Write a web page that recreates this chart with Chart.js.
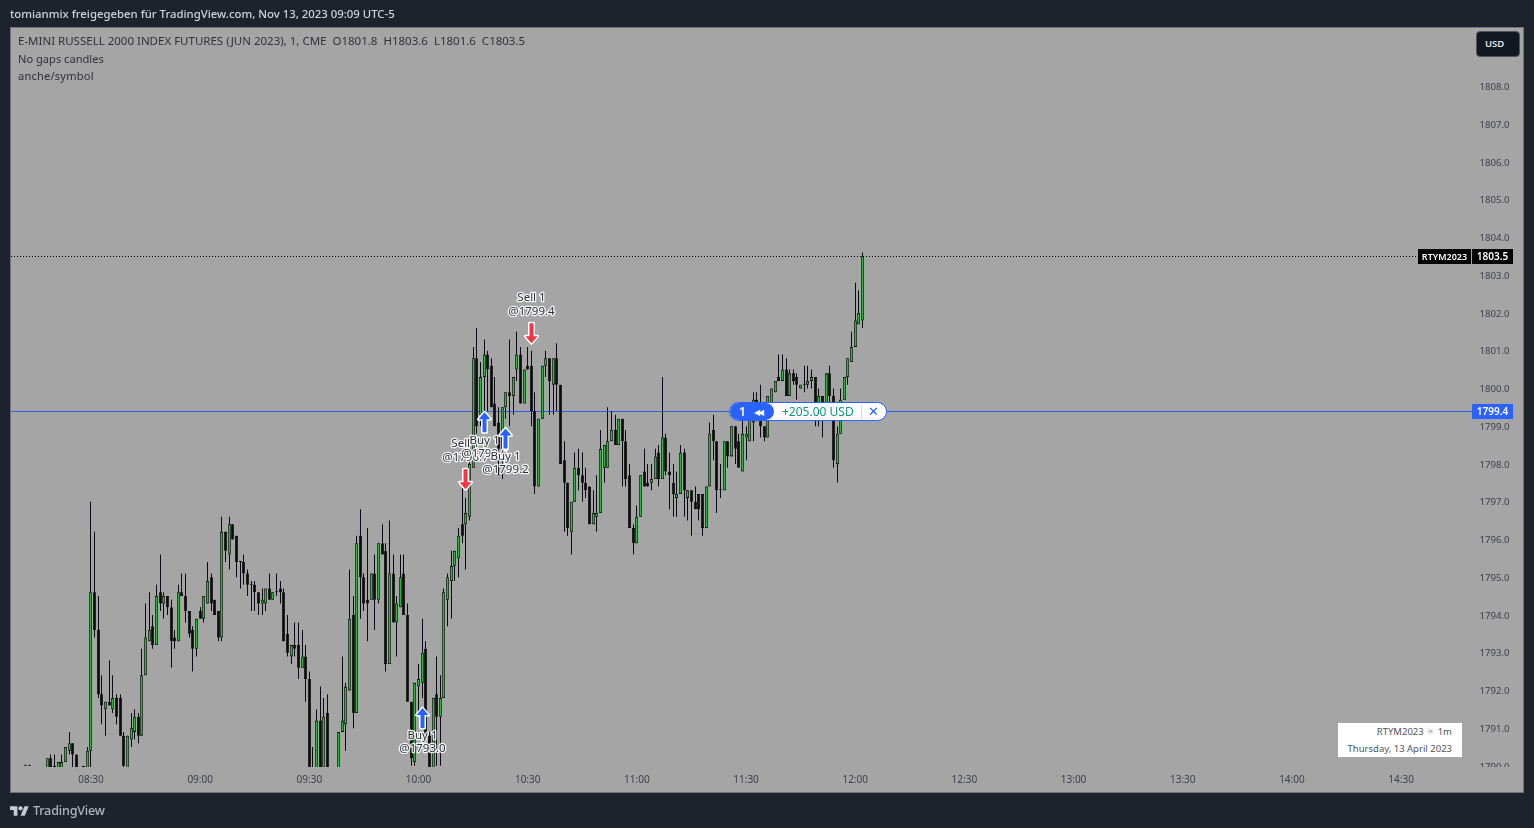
<html>
<head>
<title>RTYM2023 1m</title>
<meta charset="utf-8" />
<script src="https://cdn.jsdelivr.net/npm/chart.js@4"></script>
<style>
	html, body { margin: 0; padding: 0; background: #1e222d; width: 1534px; height: 828px; overflow: hidden; font-family: "Noto Sans", sans-serif; }
	#pane { position: absolute; left: 10px; top: 27px; width: 1512px; height: 764px; background: #a5a5a5; border: 1px solid #71747e; }
	#gmChart { position: absolute; left: 0; top: 0; }
	.txt { position: absolute; white-space: nowrap; }
	#title { left: 10px; top: 6px; font-size: 11.36px; font-weight: 500; color: #d1d4dc; line-height: 16px; }
	.legend { left: 18px; font-size: 11.5px; color: #2f3136; line-height: 16px; }
	#usd { left: 1476px; top: 31px; width: 44px; height: 26px; box-sizing: border-box; background: #131722; border: 1px solid #50535e; border-radius: 4px; color: #e6e7ea; font-size: 9.5px; font-weight: 600; line-height: 24px; padding-left: 8px; }
	#stamp { left: 1338px; top: 723px; width: 124px; height: 34px; background: #fff; color: #50535a; font-size: 9.5px; text-align: right; }
	#stamp div { position: absolute; right: 10px; line-height: 12px; opacity: 0.99; }
	#pill { left: 729px; top: 402px; width: 158px; height: 19px; box-sizing: border-box; background: #fff; border: 1px solid #2962ff; border-radius: 10px; overflow: hidden; font-size: 12px; line-height: 17px; }
	#pill span { position: absolute; top: 0; }
	#pillLeft { left: 0; width: 44px; height: 17px; background: #2962ff; border-radius: 0 9px 9px 0; }
	#footer { left: 33px; top: 802px; font-size: 12.6px; font-weight: 500; color: #b2b5be; line-height: 18px; letter-spacing: -0.2px; }
</style>
</head>
<body>
	<div id="pane"></div>
	<canvas id="gmChart" width="1534" height="828"></canvas>

	<div class="txt" id="title">tomianmix freigegeben für TradingView.com, Nov 13, 2023 09:09 UTC-5</div>
	<div class="txt legend" style="top:33px">E-MINI RUSSELL 2000 INDEX FUTURES (JUN 2023), 1, CME&nbsp; O1801.8&nbsp; H1803.6&nbsp; L1801.6&nbsp; C1803.5</div>
	<div class="txt legend" style="top:51px;font-size:11.1px">No gaps candles</div>
	<div class="txt legend" style="top:68px;font-size:11.1px;letter-spacing:0.2px">anche/symbol</div>
	<div class="txt" id="usd">USD</div>
	<div class="txt" id="stamp">
		<div style="top:3px">RTYM2023 <span style="color:#b8bac2">☀</span> 1m</div>
		<div style="top:20px">Thursday, 13 April 2023</div>
	</div>
	<div class="txt" id="pill">
		<div id="pillLeft" style="position:absolute"></div>
		<span style="left:9px;color:#fff;font-weight:600">1</span>
		<span style="left:24px;color:#fff;font-size:8px;letter-spacing:-2px">◀◀</span>
		<span style="left:52px;color:#089981">+205.00 USD</span>
		<span style="left:131px;top:1px;height:15px;border-left:1px solid #d6dcf0"></span>
		<span style="left:138px;color:#2962ff;font-size:13px">✕</span>
	</div>
	<svg style="position:absolute;left:10px;top:805px" width="19" height="12" viewBox="0 4 36 18">
		<path fill="#c9cbd2" d="M14 22H7V11H0V4h14v18zM28 22h-8l7.5-18h8L28 22z"/><circle fill="#c9cbd2" cx="20" cy="8" r="4"/>
	</svg>
	<div class="txt" id="footer">TradingView</div>

	<script>
		// 1 minute candles, first one is 08:12
		const firstMinute = 492;
		const opens = [
			1790.0,1790.0,1789.8,1789.8,1789.8,1789.8,1789.8,1790.2,1789.8,1789.8,
			1789.8,1790.1,1790.4,1790.6,1790.3,1789.8,1789.8,1789.9,1790.4,1794.6,
			1793.6,1791.9,1791.5,1791.7,1791.5,1791.8,1791.8,1790.8,1789.9,1790.7,
			1790.9,1791.3,1790.8,1792.4,1793.3,1793.7,1793.2,1794.6,1794.3,1794.5,
			1794.2,1793.4,1793.3,1794.6,1794.5,1794.1,1793.6,1793.1,1794.1,1793.9,
			1794.3,1795.0,1794.4,1794.1,1793.4,1796.2,1795.6,1796.4,1796.1,1795.4,
			1795.4,1795.1,1794.8,1794.8,1794.6,1794.3,1794.3,1794.7,1794.4,1794.6,
			1794.7,1794.6,1793.5,1792.9,1793.2,1793.2,1792.6,1792.9,1792.3,1789.9,
			1789.9,1791.2,1789.9,1791.4,1789.8,1789.7,1789.9,1790.9,1791.1,1792.0,
			1794.0,1791.4,1796.1,1795.0,1794.4,1794.4,1795.1,1794.4,1795.9,1795.7,
			1792.7,1795.1,1793.8,1794.2,1795.1,1794.0,1791.7,1790.1,1792.1,1792.2,
			1793.1,1790.8,1789.9,1791.9,1791.3,1791.8,1794.4,1794.9,1795.3,1795.5,
			1796.4,1796.4,1796.6,1797.9,1800.8,1799.3,1800.3,1800.9,1800.6,1799.6,
			1799.1,1798.4,1799.5,1799.9,1799.8,1800.5,1800.9,1799.6,1800.6,1800.6,
			1799.4,1797.4,1799.2,1800.6,1800.8,1800.1,1800.8,1800.1,1798.1,1797.5,
			1796.2,1797.0,1797.9,1797.7,1797.5,1797.4,1796.4,1796.6,1796.7,1797.9,
			1797.9,1798.6,1798.9,1798.5,1799.2,1798.6,1797.7,1796.3,1795.9,1796.6,
			1797.8,1797.5,1797.5,1797.6,1798.3,1797.6,1798.7,1797.8,1797.5,1797.1,
			1797.2,1798.3,1797.1,1797.3,1797.0,1797.2,1797.2,1796.3,1797.4,1798.9,
			1798.6,1797.3,1797.3,1798.6,1798.2,1799.0,1798.6,1797.8,1798.7,1798.6,
			1799.1,1799.7,1799.4,1799.0,1798.7,1799.4,1799.9,1800.3,1800.2,1800.5,
			1799.8,1800.4,1800.3,1800.0,1800.1,1800.1,1800.2,1800.3,1799.5,1799.8,
			1799.5,1800.4,1799.8,1798.0,1798.8,1799.7,1800.3,1800.7,1801.1,1801.7,
			1801.8
		];
		const highs = [
			1790.0,1790.0,1789.8,1789.8,1789.8,1789.8,1790.2,1790.3,1790.3,1790.1,
			1790.3,1790.5,1790.9,1790.6,1790.3,1789.8,1790.0,1790.5,1797.0,1796.2,
			1794.5,1792.4,1791.7,1792.8,1792.4,1791.9,1791.9,1790.9,1790.8,1791.4,
			1791.5,1791.4,1793.1,1794.3,1794.6,1794.0,1794.8,1795.6,1794.6,1794.5,
			1794.4,1793.6,1794.8,1795.1,1795.1,1794.1,1793.7,1793.9,1794.2,1794.5,
			1795.4,1795.1,1794.4,1794.1,1796.6,1796.2,1796.6,1796.4,1796.1,1795.4,
			1795.6,1795.2,1794.9,1794.9,1794.6,1794.7,1794.7,1795.1,1794.6,1795.1,
			1794.9,1794.7,1794.0,1793.2,1793.8,1793.8,1793.6,1793.2,1792.5,1790.5,
			1791.5,1792.1,1791.8,1791.9,1789.8,1789.8,1790.9,1792.9,1792.2,1795.2,
			1794.5,1796.1,1796.8,1795.1,1796.3,1795.1,1795.6,1795.9,1796.4,1795.9,
			1796.5,1795.6,1794.5,1795.6,1795.6,1794.3,1791.7,1792.2,1792.7,1793.9,
			1793.3,1790.9,1791.8,1792.9,1792.4,1794.7,1795.1,1795.7,1795.7,1796.3,
			1797.4,1797.1,1798.1,1801.1,1801.6,1800.7,1801.3,1801.0,1800.8,1800.3,
			1799.5,1799.5,1799.9,1801.3,1800.3,1801.5,1801.1,1800.5,1801.1,1801.0,
			1799.9,1799.2,1800.6,1801.0,1800.8,1800.8,1801.2,1800.1,1798.6,1797.5,
			1797.0,1798.3,1798.4,1798.3,1797.9,1797.4,1797.3,1797.7,1798.9,1798.5,
			1799.5,1799.4,1799.3,1799.2,1799.2,1798.9,1798.0,1796.4,1796.9,1797.7,
			1798.4,1798.0,1798.0,1798.4,1798.5,1800.3,1798.8,1798.3,1798.0,1797.8,
			1798.5,1798.4,1797.3,1797.3,1797.4,1797.2,1797.2,1797.4,1799.1,1799.3,
			1798.6,1798.0,1798.6,1798.6,1799.0,1799.0,1798.8,1799.4,1799.0,1799.6,
			1799.9,1799.9,1800.1,1799.0,1799.8,1800.0,1800.2,1800.9,1800.9,1800.8,
			1800.5,1800.5,1800.4,1800.1,1800.6,1800.6,1800.5,1800.3,1800.0,1799.8,
			1800.4,1800.6,1800.0,1799.0,1800.0,1800.3,1800.8,1801.5,1802.8,1802.6,
			1803.6
		];
		const lows = [
			1790.0,1790.0,1789.7,1789.7,1789.7,1789.7,1789.7,1789.8,1789.6,1789.7,
			1789.7,1790.1,1790.3,1789.7,1789.8,1789.7,1789.7,1789.8,1789.9,1793.4,
			1791.8,1791.1,1790.8,1791.6,1791.4,1791.1,1790.8,1789.8,1789.9,1790.5,
			1790.7,1790.6,1790.8,1792.4,1793.3,1793.1,1793.2,1794.1,1793.9,1794.0,
			1792.6,1793.1,1793.3,1794.5,1793.8,1793.4,1792.5,1792.9,1793.9,1793.8,
			1794.3,1794.1,1794.0,1793.3,1793.3,1795.4,1795.2,1796.0,1795.0,1794.7,
			1794.8,1794.5,1794.1,1794.1,1794.0,1794.0,1794.1,1794.4,1794.4,1794.5,
			1794.3,1793.3,1792.9,1792.7,1792.9,1792.3,1792.6,1791.7,1789.7,1789.6,
			1789.8,1789.8,1789.8,1789.8,1789.6,1789.6,1789.8,1790.9,1790.4,1792.0,
			1791.0,1791.4,1793.9,1794.1,1793.3,1794.4,1793.6,1794.3,1795.6,1792.5,
			1792.7,1793.8,1792.9,1794.2,1794.0,1791.7,1790.0,1790.0,1791.4,1791.8,
			1790.8,1789.8,1789.8,1790.0,1790.0,1791.8,1793.7,1793.9,1794.9,1795.0,
			1795.9,1795.2,1796.5,1797.9,1798.8,1799.0,1799.3,1799.4,1799.5,1799.0,
			1797.7,1797.6,1799.2,1799.0,1799.3,1800.2,1799.6,1799.6,1800.5,1799.0,
			1797.2,1797.4,1799.2,1800.3,1799.3,1799.3,1799.4,1798.0,1796.2,1796.1,
			1795.6,1797.0,1797.3,1797.0,1797.1,1796.4,1796.4,1796.2,1796.7,1797.5,
			1797.9,1798.6,1798.5,1798.5,1797.4,1797.4,1796.3,1795.6,1795.9,1796.6,
			1797.4,1797.4,1797.3,1797.6,1797.4,1797.6,1797.7,1796.8,1796.6,1796.6,
			1797.2,1796.6,1796.5,1796.1,1796.8,1796.5,1796.1,1796.3,1797.4,1798.1,
			1796.7,1797.1,1797.3,1797.9,1798.2,1798.0,1797.9,1797.8,1798.1,1798.6,
			1798.6,1799.2,1798.7,1798.6,1798.7,1799.4,1799.9,1800.2,1800.2,1799.8,
			1799.8,1800.1,1799.7,1800.0,1799.9,1800.0,1800.0,1799.0,1799.0,1798.7,
			1799.5,1799.5,1797.9,1797.5,1798.8,1799.7,1800.1,1800.7,1801.1,1801.7,
			1801.6
		];
		const closes = [
			1790.0,1790.0,1789.7,1789.7,1789.7,1789.7,1790.2,1789.8,1789.8,1790.1,
			1790.1,1790.5,1790.6,1790.3,1789.9,1789.7,1789.8,1790.4,1794.6,1793.6,
			1791.9,1791.6,1791.7,1791.6,1791.8,1791.3,1790.8,1790.0,1790.8,1791.0,
			1791.3,1790.8,1792.4,1793.4,1793.6,1793.2,1794.5,1794.3,1794.5,1794.2,
			1793.3,1793.3,1794.6,1794.5,1794.1,1793.5,1793.1,1793.9,1793.9,1794.5,
			1794.9,1794.3,1794.0,1793.4,1796.2,1795.7,1796.4,1796.0,1795.4,1795.4,
			1795.1,1794.8,1794.8,1794.6,1794.3,1794.4,1794.7,1794.4,1794.6,1794.6,
			1794.6,1793.3,1793.0,1793.2,1793.1,1792.6,1792.9,1792.3,1789.9,1789.8,
			1791.2,1789.9,1791.3,1789.9,1789.7,1789.8,1790.9,1791.2,1792.1,1793.9,
			1791.4,1795.9,1795.0,1794.3,1794.3,1795.1,1794.4,1795.9,1795.6,1792.7,
			1795.1,1793.8,1794.3,1795.0,1794.0,1791.7,1790.2,1792.2,1792.3,1793.0,
			1790.8,1789.9,1791.8,1791.3,1791.8,1794.6,1795.0,1795.3,1795.7,1796.1,
			1796.1,1796.7,1798.0,1800.8,1799.0,1800.3,1800.9,1800.5,1799.5,1799.0,
			1798.4,1799.5,1799.9,1799.8,1800.3,1800.9,1799.6,1800.5,1800.5,1799.4,
			1797.4,1799.2,1800.6,1800.8,1800.2,1800.8,1800.1,1798.0,1797.5,1796.3,
			1797.0,1797.9,1797.7,1797.5,1797.3,1796.4,1796.7,1796.7,1798.4,1798.5,
			1798.6,1798.9,1798.5,1799.2,1798.6,1797.6,1796.3,1795.9,1796.6,1797.7,
			1797.4,1797.4,1797.6,1798.2,1797.6,1798.7,1797.8,1797.7,1797.2,1797.2,
			1798.3,1797.3,1797.3,1797.0,1796.8,1796.8,1796.3,1797.4,1798.8,1798.6,
			1797.3,1797.3,1798.6,1798.2,1799.0,1798.4,1797.9,1798.8,1798.8,1799.4,
			1799.7,1799.2,1799.0,1798.7,1799.8,1800.0,1800.2,1800.2,1800.5,1799.8,
			1800.4,1800.2,1800.1,1800.1,1800.1,1800.2,1800.3,1799.4,1799.8,1799.3,
			1800.4,1799.8,1798.1,1798.8,1799.7,1800.3,1800.8,1801.1,1801.8,1802.0,
			1803.5
		];

		const timeTickMinutes = [510, 540, 570, 600, 630, 660, 690, 720, 750, 780, 810, 840, 870];
		const timeTickLabels = ["08:30", "09:00", "09:30", "10:00", "10:30", "11:00", "11:30", "12:00", "12:30", "13:00", "13:30", "14:00", "14:30"];

		const lastPrice = 1803.5;
		const entryPrice = 1799.4;

		// trade marks: minute of the bar, price at the arrow tip, label
		const tradeSides = ["buy", "sell", "buy", "buy", "sell"];
		const tradeMinutes = [601, 613, 618, 624, 631];
		const tradeTips = [1791.53, 1797.33, 1799.37, 1798.94, 1801.2];
		const tradeFills = ["@1793.0", "@1796.7", "@1799.6", "@1799.2", "@1799.4"];

		const minutes = opens.map((v, i) => firstMinute + i);
		const upColor = '#2bb83a';
		const candleFill = opens.map((o, i) => closes[i] > o ? upColor : '#0b0b0b');

		const wickData = minutes.map((m, i) => ({ x: m, y: [lows[i], highs[i]] }));
		const bodyData = minutes.map((m, i) => ({ x: m, y: [opens[i], closes[i]] }));

		const xMin = 488.02, xMax = 903.5;

		function drawArrow(ctx, x, tipY, dir, color) {
			// dir 1 = pointing up (buy), -1 = pointing down (sell)
			ctx.beginPath();
			ctx.moveTo(x, tipY);
			ctx.lineTo(x + 6, tipY + dir * 7);
			ctx.lineTo(x + 2, tipY + dir * 7);
			ctx.lineTo(x + 2, tipY + dir * 20);
			ctx.lineTo(x - 2, tipY + dir * 20);
			ctx.lineTo(x - 2, tipY + dir * 7);
			ctx.lineTo(x - 6, tipY + dir * 7);
			ctx.closePath();
			ctx.lineJoin = 'round';
			ctx.lineWidth = 3;
			ctx.strokeStyle = '#fff';
			ctx.stroke();
			ctx.fillStyle = color;
			ctx.fill();
		}

		function haloText(ctx, s, x, y) {
			ctx.lineJoin = 'round';
			ctx.lineWidth = 2.5;
			ctx.strokeStyle = 'rgba(255,255,255,0.9)';
			ctx.strokeText(s, x, y);
			ctx.fillStyle = '#2a2e39';
			ctx.fillText(s, x, y);
		}

		function priceTag(ctx, s, left, right, price, scale, bg, size) {
			const y = Math.round(scale.getPixelForValue(price) - 0.5) + 0.5;
			ctx.fillStyle = bg;
			ctx.fillRect(left, y - 7.5, right - left, 15);
			ctx.fillStyle = '#fff';
			ctx.font = '600 ' + size + 'px "Noto Sans"';
			ctx.textAlign = 'center';
			ctx.textBaseline = 'middle';
			ctx.fillText(s, (left + right) / 2, y + 0.5);
		}

		const overlayPlugin = {
			id: 'overlay',
			// snap candles and lines to whole pixels like the original
			afterDatasetsUpdate(chart) {
				chart.data.datasets.forEach((ds, i) => {
					chart.getDatasetMeta(i).data.forEach(el => {
						if (ds.type === 'line') el.y = Math.round(el.y - 0.5) + 0.5;
						else el.x = Math.floor(el.x) + 0.5;
					});
				});
			},
			afterDatasetsDraw(chart) {
				const ctx = chart.ctx;
				const x = chart.scales.x, y = chart.scales.y;
				ctx.save();
				// time axis strip cuts the lowest price label
				ctx.fillStyle = '#a5a5a5';
				ctx.fillRect(11, chart.chartArea.bottom, 1512, 792 - chart.chartArea.bottom);

				priceTag(ctx, 'RTYM2023', 1418, 1471, lastPrice, y, '#000', 9);
				priceTag(ctx, lastPrice.toFixed(1), 1472, 1513, lastPrice, y, '#000', 10);
				priceTag(ctx, entryPrice.toFixed(1), 1472, 1513, entryPrice, y, '#2962ff', 10);

				ctx.font = '11.5px "Noto Sans"';
				ctx.textAlign = 'center';
				ctx.textBaseline = 'middle';
				tradeMinutes.forEach((m, i) => {
					const px = Math.floor(x.getPixelForValue(m)) + 0.5;
					const tip = y.getPixelForValue(tradeTips[i]);
					if (tradeSides[i] === 'buy') {
						drawArrow(ctx, px, tip, 1, '#2962ff');
						haloText(ctx, 'Buy 1', px, tip + 28);
						haloText(ctx, tradeFills[i], px, tip + 41);
					} else {
						drawArrow(ctx, px, tip, -1, '#f23645');
						haloText(ctx, 'Sell 1', px, tip - 45);
						haloText(ctx, tradeFills[i], px, tip - 31);
					}
				});
				ctx.restore();
			}
		};

		const data = {
			datasets: [
				{
					type: 'line',
					data: [{ x: xMin, y: entryPrice }, { x: 895, y: entryPrice }],
					borderColor: '#3060dc',
					borderWidth: 1,
					pointRadius: 0,
					order: 4
				},
				{
					type: 'line',
					data: [{ x: xMin, y: lastPrice }, { x: 877.6, y: lastPrice }],
					borderColor: '#000',
					borderWidth: 1,
					borderDash: [1, 2],
					pointRadius: 0,
					order: 3
				},
				{
					type: 'bar',
					data: wickData,
					backgroundColor: '#0b0b14',
					barThickness: 1,
					grouped: false,
					minBarLength: 1,
					inflateAmount: 0,
					order: 2
				},
				{
					type: 'bar',
					data: bodyData,
					backgroundColor: candleFill,
					borderColor: '#0b0b0b',
					borderWidth: 0.8,
					borderSkipped: false,
					barThickness: 3,
					grouped: false,
					minBarLength: 1,
					inflateAmount: 0,
					order: 1
				}
			]
		};

		const config = {
			type: 'bar',
			data: data,
			plugins: [overlayPlugin],
			options: {
				responsive: false,
				animation: false,
				events: [],
				layout: { autoPadding: false, padding: { left: 11, right: 11, top: 28, bottom: 0 } },
				plugins: { legend: { display: false }, tooltip: { enabled: false } },
				scales: {
					x: {
						type: 'linear',
						offset: false,
						min: xMin,
						max: xMax,
						grid: { display: false, drawTicks: false },
						border: { display: false },
						afterFit(scale) { scale.height = 61; },
						afterBuildTicks(scale) { scale.ticks = timeTickMinutes.map(v => ({ value: v })); },
						ticks: {
							z: 1,
							padding: 7.5,
							autoSkip: false,
							maxRotation: 0,
							color: '#3c3f47',
							font: { family: 'Noto Sans', size: 10 },
							callback: v => timeTickLabels[timeTickMinutes.indexOf(v)]
						}
					},
					y: {
						position: 'right',
						min: 1789.97,
						max: 1809.55,
						grid: { display: false, drawTicks: false },
						border: { display: false },
						afterFit(scale) { scale.width = 0; },
						ticks: {
							mirror: true,
							padding: -13.5,
							labelOffset: 1,
							stepSize: 1,
							includeBounds: false,
							color: '#3c3f47',
							font: { family: 'Noto Sans', size: 9.6 },
							callback: v => v.toFixed(1)
						}
					}
				}
			}
		};

		var myChart = new Chart(document.getElementById('gmChart'), config);
	</script>
</body>
</html>
